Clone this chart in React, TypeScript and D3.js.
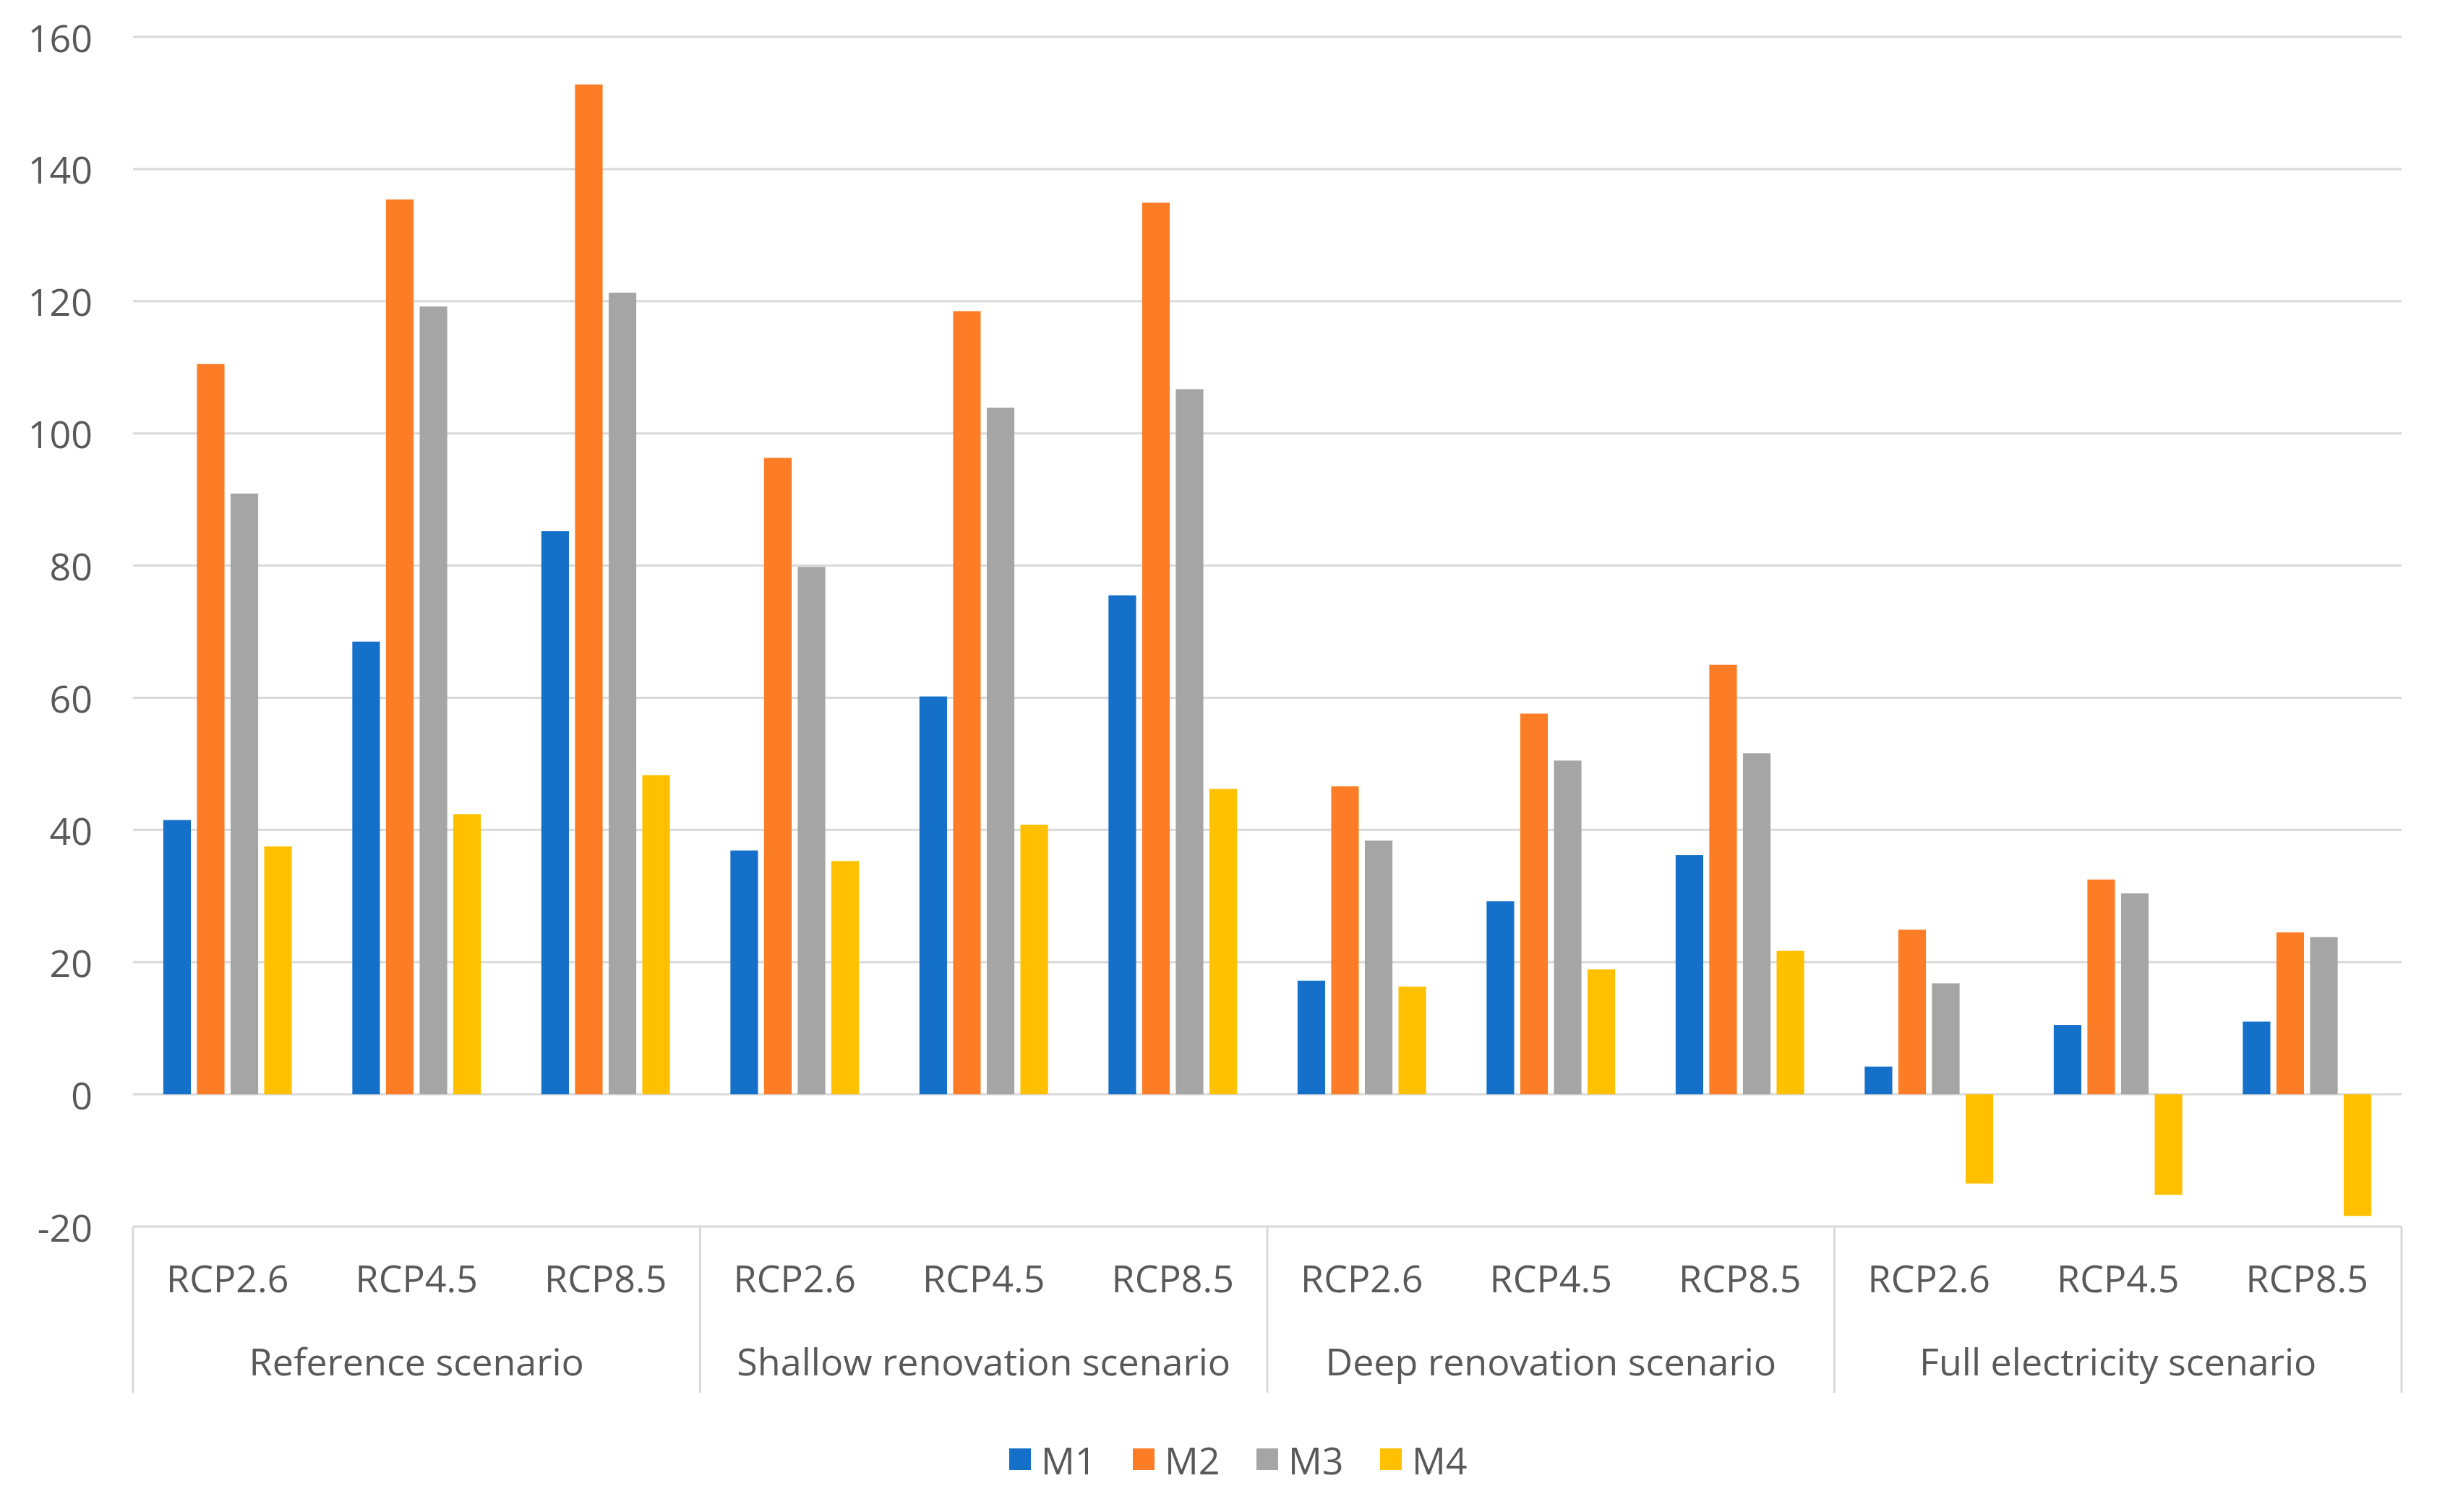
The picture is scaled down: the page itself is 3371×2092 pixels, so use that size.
import * as d3 from 'd3';

const groups = ['Reference scenario', 'Shallow renovation scenario', 'Deep renovation scenario', 'Full electricity scenario'];
const rcps = ['RCP2.6', 'RCP4.5', 'RCP8.5'];
const series = ['M1', 'M2', 'M3', 'M4'];
const colors = ['#1570c9', '#fd7d27', '#a5a5a5', '#ffc000'];

// one entry per group x rcp, in the order groups -> rcps
const m1 = [41.5, 68.5, 85.2, 36.9, 60.2, 75.5, 17.2, 29.2, 36.2, 4.2, 10.5, 11.0];
const m2 = [110.5, 135.4, 152.8, 96.3, 118.5, 134.9, 46.6, 57.6, 65, 24.9, 32.5, 24.5];
const m3 = [90.9, 119.2, 121.3, 79.8, 103.9, 106.7, 38.4, 50.5, 51.6, 16.8, 30.4, 23.8];
const m4 = [37.5, 42.4, 48.3, 35.3, 40.8, 46.2, 16.3, 18.9, 21.7, -13.5, -15.2, -18.4];
const yTicks = [-20, 0, 20, 40, 60, 80, 100, 120, 140, 160];

const W = 3371;
const H = 2092;
const left = 184;
const right = 3322;
const font = '"Open Sans", "Noto Sans", sans-serif';
const textColor = '#595959';
const fs = 52;

export default function App() {
    const values = [m1, m2, m3, m4];
    const cats = groups.flatMap((g) => rcps.map((r) => `${g}|${r}`));

    const y = d3.scaleLinear().domain([-20, 160]).range([1697, 51]);
    const x = d3.scaleBand().domain(cats).range([left, right]).paddingInner(0.32).paddingOuter(0.16);
    const xs = d3.scaleBand().domain(series).range([0, x.bandwidth()]).paddingInner(0.18);
    const groupW = ((right - left) / cats.length) * rcps.length;

    return (
        <svg width={W} height={H} viewBox={`0 0 ${W} ${H}`} style={{ position: 'absolute', left: 0, top: 0 }}>
            <rect width={W} height={H} fill="#fff" />
            {yTicks.map((t) => (
                <g key={t}>
                    <line x1={left} x2={right} y1={y(t)} y2={y(t)} stroke="#d9d9d9" strokeWidth={3} />
                    <text
                        x={128}
                        y={y(t)}
                        textAnchor="end"
                        dominantBaseline="central"
                        fontFamily={font}
                        fontSize={fs}
                        fill={textColor}
                    >
                        {t}
                    </text>
                </g>
            ))}
            {/* group separators below the axis */}
            {d3.range(groups.length + 1).map((i) => {
                const gx = left + i * groupW;
                return <line key={i} x1={gx} x2={gx} y1={y(-20)} y2={1927} stroke="#d9d9d9" strokeWidth={3} />;
            })}
            {cats.map((c, ci) => (
                <g key={c} transform={`translate(${x(c)},0)`}>
                    {series.map((s, si) => {
                        const v = values[si][ci];
                        return (
                            <rect
                                key={s}
                                x={xs(s)}
                                y={Math.min(y(v), y(0))}
                                width={xs.bandwidth()}
                                height={Math.abs(y(v) - y(0))}
                                fill={colors[si]}
                            />
                        );
                    })}
                    <text
                        x={x.bandwidth() / 2}
                        y={1788}
                        textAnchor="middle"
                        fontFamily={font}
                        fontSize={fs}
                        fill={textColor}
                    >
                        {c.split('|')[1]}
                    </text>
                </g>
            ))}
            {groups.map((g, gi) => (
                <text
                    key={g}
                    x={left + (gi + 0.5) * groupW}
                    y={1903}
                    textAnchor="middle"
                    fontFamily={font}
                    fontSize={fs}
                    fill={textColor}
                >
                    {g}
                </text>
            ))}
            {series.map((s, si) => (
                <g key={s} transform={`translate(${1396 + si * 171},2019)`}>
                    <rect x={0} y={-15} width={30} height={30} fill={colors[si]} />
                    <text x={44} y={0} dominantBaseline="central" fontFamily={font} fontSize={fs} fill={textColor}>
                        {s}
                    </text>
                </g>
            ))}
        </svg>
    );
}
